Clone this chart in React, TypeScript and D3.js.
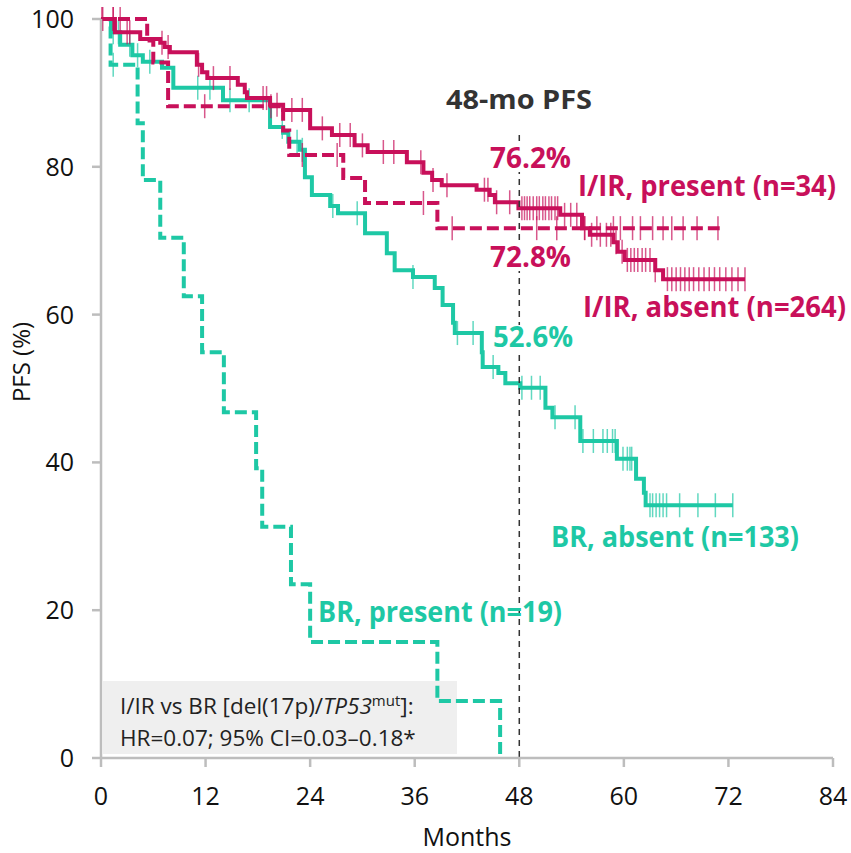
import React from 'react';
import * as d3 from 'd3';

// Kaplan-Meier step points: time (months) of each drop and the new PFS level
const irAbsentTimes = [0, 1.6, 4.5, 6.8, 7.3, 7.9, 11.0, 11.6, 12.2, 15.7, 16.5, 16.75, 19.4, 20.9, 24.0, 26.5, 29.1, 30.6, 35.1, 37.0, 38.0, 39.1, 43.1, 44.6, 45.2, 47.9, 52.7, 55.2, 56.1, 58.8, 59.3, 60.1, 63.6, 64.5, 73.9];
const irAbsentSurv = [100, 98.2, 97.3, 96.8, 96.2, 95.5, 93.8, 92.8, 92.0, 91.1, 90.1, 89.3, 88.4, 87.7, 85.2, 84.3, 82.9, 82.0, 80.6, 79.2, 78.2, 77.5, 76.9, 76.2, 75.2, 74.4, 73.5, 71.7, 70.8, 69.8, 68.5, 67.4, 66.0, 64.8, 64.8];
const irAbsentCensor = [0.2, 1.4, 3.0, 3.3, 7.0, 7.7, 11.2, 12.9, 14.8, 18.6, 19.0, 20.2, 21.9, 23.1, 25.4, 27.4, 28.6, 30.0, 32.4, 33.6, 36.7, 38.1, 39.7, 44.0, 44.4, 45.4, 46.9, 48.3, 48.6, 48.9, 49.2, 49.6, 50.0, 50.3, 50.7, 51.0, 51.4, 51.7, 52.1, 52.4, 53.2, 53.9, 54.6, 55.5, 56.3, 57.3, 58.0, 58.5, 59.1, 59.8, 60.4, 60.8, 61.2, 61.6, 62.1, 62.5, 63.0, 63.6, 65.0, 65.5, 66.0, 66.5, 67.0, 67.5, 68.0, 68.6, 69.2, 69.8, 70.4, 71.0, 71.7, 72.4, 73.1, 73.9];

const irPresentTimes = [0, 5.3, 6.0, 7.7, 20.9, 21.6, 27.8, 30.3, 38.6, 71.0];
const irPresentSurv = [100, 97.1, 94.1, 88.2, 84.9, 81.6, 78.5, 75.1, 71.7, 71.7];
const irPresentCensor = [0.1, 1.4, 2.2, 11.9, 19.5, 23.1, 27.1, 37.0, 40.3, 50.0, 52.3, 55.5, 56.9, 58.8, 59.6, 61.0, 61.9, 63.3, 64.5, 65.5, 66.8, 68.4, 70.8];

const brAbsentTimes = [0, 1.15, 2.2, 3.6, 4.8, 7.0, 8.3, 14.0, 19.4, 20.9, 21.5, 22.8, 23.4, 24.2, 26.3, 27.2, 30.3, 32.8, 33.7, 35.8, 38.3, 39.2, 40.4, 40.6, 43.7, 43.8, 45.6, 46.4, 48.1, 51.0, 51.8, 55.0, 59.2, 61.4, 62.3, 62.5, 72.5];
const brAbsentSurv = [100, 98.2, 96.5, 95.1, 94.2, 93.4, 90.7, 89.0, 85.4, 84.6, 83.4, 82.3, 78.6, 76.2, 74.7, 73.7, 71.0, 68.3, 66.0, 65.1, 63.6, 61.3, 58.9, 57.5, 54.9, 52.9, 52.1, 50.7, 50.1, 47.4, 46.1, 42.9, 40.5, 37.8, 35.9, 34.2, 34.2];
const brAbsentCensor = [1.4, 2.0, 3.3, 4.2, 5.6, 11.1, 12.5, 14.8, 17.0, 20.8, 22.5, 23.1, 26.6, 29.4, 35.8, 40.9, 42.7, 45.0, 48.3, 49.4, 50.4, 52.1, 54.4, 55.3, 56.5, 57.6, 58.1, 58.7, 59.0, 59.9, 60.4, 60.7, 60.9, 63.0, 63.3, 63.7, 64.1, 64.5, 64.9, 66.4, 68.5, 70.5, 72.5];

const brPresentTimes = [0, 1.1, 4.2, 4.8, 6.8, 9.5, 11.6, 14.1, 17.8, 18.5, 21.8, 24.0, 38.6, 45.8];
const brPresentSurv = [100, 93.8, 85.9, 78.2, 70.4, 62.5, 54.9, 46.8, 39.2, 31.3, 23.5, 15.7, 7.7, 0];
const brPresentCensor = [1.4];

const xTicks = [0, 12, 24, 36, 48, 60, 72, 84];
const yTicks = [0, 20, 40, 60, 80, 100];
const landmark = 48;

const MAGENTA = '#c8105a';
const TEAL = '#1ec8a5';
const AXIS = '#bdbdbd';
const FONT = "'Open Sans', 'Noto Sans', sans-serif";

const x = d3.scaleLinear().domain([0, 84]).range([101, 833]);
const y = d3.scaleLinear().domain([0, 100]).range([758, 19]);

const stepLine = d3.line<[number, number]>()
  .x(d => x(d[0]))
  .y(d => y(d[1]))
  .curve(d3.curveStepAfter);

const survAt = (times: number[], surv: number[], t: number) => {
  let v = surv[0];
  for (let i = 0; i < times.length; i++) if (times[i] <= t) v = surv[i];
  return v;
};

const curves = [
  { times: brPresentTimes, surv: brPresentSurv, censor: brPresentCensor, color: TEAL, dash: '12,5' },
  { times: brAbsentTimes, surv: brAbsentSurv, censor: brAbsentCensor, color: TEAL, dash: null },
  { times: irPresentTimes, surv: irPresentSurv, censor: irPresentCensor, color: MAGENTA, dash: '12,5' },
  { times: irAbsentTimes, surv: irAbsentSurv, censor: irAbsentCensor, color: MAGENTA, dash: null },
];

const labels = [
  { text: '76.2%', x: 490, y: 168, w: 81, color: MAGENTA, bg: true },
  { text: 'I/IR, present (n=34)', x: 578, y: 196, w: 258, color: MAGENTA, bg: false },
  { text: '72.8%', x: 490, y: 267, w: 81, color: MAGENTA, bg: true },
  { text: 'I/IR, absent (n=264)', x: 583, y: 317, w: 263, color: MAGENTA, bg: false },
  { text: '52.6%', x: 493, y: 347, w: 80, color: TEAL, bg: true },
  { text: 'BR, absent (n=133)', x: 551, y: 547, w: 248, color: TEAL, bg: false },
  { text: 'BR, present (n=19)', x: 318, y: 622, w: 244, color: TEAL, bg: false },
];

export default function App() {
  return (
    <svg width={851} height={853} style={{ position: 'absolute', left: 0, top: 0, background: '#fff' }} fontFamily={FONT}>
      {/* annotation box */}
      <rect x={103} y={681} width={354} height={73} fill="#efefef" />

      {/* curves */}
      {curves.map((c, i) => {
        const pts = c.times.map((t, j) => [t, c.surv[j]] as [number, number]);
        return (
          <g key={i}>
            <path d={stepLine(pts) || ''} fill="none" stroke={c.color} strokeWidth={4}
              strokeDasharray={c.dash || undefined} strokeLinejoin="miter" />
            {c.censor.map((t, k) => {
              const cx = x(t);
              const cy = y(survAt(c.times, c.surv, t));
              return <line key={k} x1={cx} x2={cx} y1={cy - 12} y2={cy + 12}
                stroke={c.color} strokeWidth={1.5} strokeOpacity={0.7} />;
            })}
          </g>
        );
      })}

      {/* 48-month landmark */}
      <line x1={x(landmark)} x2={x(landmark)} y1={135} y2={y(0)} stroke="#333" strokeWidth={1.5} strokeDasharray="6,5" />
      <text x={446} y={109} fontSize={26} fontWeight="bold" fill="#333" textLength={146} lengthAdjust="spacingAndGlyphs">48-mo PFS</text>

      {labels.map((l, i) => (
        <g key={i}>
          {l.bg && <rect x={l.x - 2} y={l.y - 22} width={l.w + 4} height={26} fill="#fff" />}
          <text x={l.x} y={l.y} fontSize={28} fontWeight="bold" fill={l.color}
            textLength={l.w} lengthAdjust="spacingAndGlyphs">{l.text}</text>
        </g>
      ))}

      {/* axes */}
      <line x1={x(0)} x2={x(0)} y1={y(100)} y2={y(0)} stroke={AXIS} strokeWidth={2.5} />
      <line x1={x(0)} x2={x(84)} y1={y(0)} y2={y(0)} stroke={AXIS} strokeWidth={2.5} />
      {yTicks.map(t => (
        <g key={t}>
          <line x1={x(0) - 9} x2={x(0)} y1={y(t)} y2={y(t)} stroke={AXIS} strokeWidth={2.5} />
          <text x={74} y={y(t)} dy="0.36em" textAnchor="end" fontSize={25} fill="#111">{t}</text>
        </g>
      ))}
      {xTicks.map(t => (
        <g key={t}>
          <line x1={x(t)} x2={x(t)} y1={y(0)} y2={y(0) + 9} stroke={AXIS} strokeWidth={2.5} />
          <text x={x(t)} y={805} textAnchor="middle" fontSize={25} fill="#111">{t}</text>
        </g>
      ))}
      <text x={467} y={846} textAnchor="middle" fontSize={25} fill="#111">Months</text>
      <text transform="translate(30,362) rotate(-90)" textAnchor="middle" fontSize={24} fill="#111">PFS (%)</text>

      {/* HR annotation */}
      <text x={120} y={714} fontSize={22.5} fill="#222">
        I/IR vs BR [del(17p)/<tspan fontStyle="italic">TP53</tspan><tspan fontSize={15} dy={-8}>mut</tspan><tspan dy={8}>]:</tspan>
      </text>
      <text x={120} y={746} fontSize={22.5} fill="#222">HR=0.07; 95% CI=0.03–0.18*</text>
    </svg>
  );
}
